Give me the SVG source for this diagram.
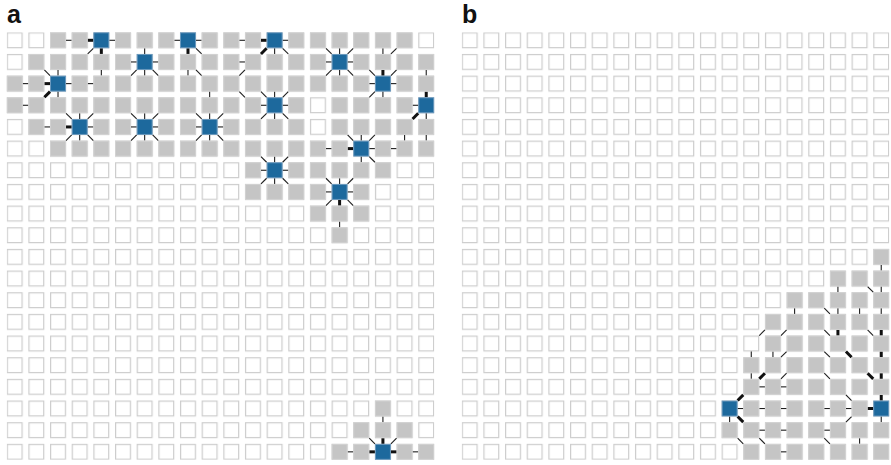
<svg xmlns="http://www.w3.org/2000/svg" xmlns:xlink="http://www.w3.org/1999/xlink" width="891" height="465" viewBox="0 0 891 465">
<style>
.lbl{font-family:"Liberation Sans",Arial,sans-serif;font-weight:bold;font-size:25px;fill:#111}
.t{stroke:#1e1e1e;stroke-width:1.1}
.k{stroke:#111;stroke-width:3}
.gs{fill:#c5c5c5;stroke:#d2d2d2;stroke-width:1}
.bs{fill:#1d699d;stroke:#6a98bd;stroke-width:1}
</style>
<defs>
<pattern id="pw" width="21.66" height="21.66" patternUnits="userSpaceOnUse"><rect x="0.6" y="0.6" width="14.8" height="14.8" fill="#fff" stroke="#cdcdcd" stroke-width="1.2"/></pattern>
<line id="H" x1="16" y1="8" x2="21.66" y2="8"/>
<line id="V" x1="8" y1="16" x2="8" y2="21.66"/>
<line id="R" x1="16" y1="16" x2="21.66" y2="21.66"/>
<line id="L" x1="0" y1="16" x2="-5.66" y2="21.66"/>
<rect id="G" class="gs" x="0.5" y="0.5" width="15" height="15"/>
<rect id="B" class="bs" x="0.5" y="0.5" width="15" height="15"/>
</defs>
<rect width="891" height="465" fill="#fff"/>
<text class="lbl" x="7" y="23">a</text>
<text class="lbl" x="462" y="23">b</text>

<g id="panel-a" transform="translate(6.7 32.3)">
<rect id="grid-a" width="427.6" height="427.6" fill="url(#pw)"/>
<g id="connectors-a">
<use href="#H" x="43.32" y="0" class="t"/><use href="#H" x="64.98" y="0" class="k"/><use href="#H" x="86.64" y="0" class="t"/><use href="#H" x="151.62" y="0" class="t"/><use href="#H" x="173.28" y="0" class="t"/><use href="#H" x="216.6" y="0" class="t"/><use href="#H" x="238.26" y="0" class="k"/><use href="#H" x="259.92" y="0" class="t"/>
<use href="#L" x="86.64" y="0" class="t"/><use href="#V" x="86.64" y="0" class="k"/><use href="#V" x="129.96" y="0" class="t"/><use href="#V" x="173.28" y="0" class="k"/><use href="#R" x="173.28" y="0" class="t"/><use href="#L" x="259.92" y="0" class="k"/><use href="#V" x="259.92" y="0" class="t"/><use href="#R" x="259.92" y="0" class="t"/><use href="#R" x="303.24" y="0" class="t"/><use href="#V" x="324.9" y="0" class="t"/><use href="#L" x="346.56" y="0" class="t"/><use href="#V" x="368.22" y="0" class="t"/><use href="#L" x="389.88" y="0" class="t"/>
<use href="#H" x="108.3" y="21.66" class="t"/><use href="#H" x="129.96" y="21.66" class="t"/><use href="#H" x="216.6" y="21.66" class="t"/><use href="#H" x="303.24" y="21.66" class="t"/><use href="#H" x="324.9" y="21.66" class="t"/>
<use href="#R" x="21.66" y="21.66" class="t"/><use href="#V" x="43.32" y="21.66" class="t"/><use href="#V" x="86.64" y="21.66" class="t"/><use href="#L" x="129.96" y="21.66" class="t"/><use href="#V" x="129.96" y="21.66" class="t"/><use href="#R" x="129.96" y="21.66" class="t"/><use href="#V" x="173.28" y="21.66" class="t"/><use href="#R" x="173.28" y="21.66" class="t"/><use href="#L" x="238.26" y="21.66" class="t"/><use href="#L" x="324.9" y="21.66" class="t"/><use href="#V" x="324.9" y="21.66" class="t"/><use href="#R" x="324.9" y="21.66" class="t"/><use href="#R" x="346.56" y="21.66" class="t"/><use href="#V" x="368.22" y="21.66" class="k"/><use href="#L" x="389.88" y="21.66" class="t"/><use href="#V" x="411.54" y="21.66" class="t"/>
<use href="#H" x="0" y="43.32" class="t"/><use href="#H" x="21.66" y="43.32" class="k"/><use href="#H" x="43.32" y="43.32" class="t"/><use href="#H" x="64.98" y="43.32" class="t"/><use href="#H" x="346.56" y="43.32" class="t"/><use href="#H" x="368.22" y="43.32" class="t"/>
<use href="#L" x="43.32" y="43.32" class="k"/><use href="#V" x="43.32" y="43.32" class="t"/><use href="#V" x="194.94" y="43.32" class="t"/><use href="#R" x="216.6" y="43.32" class="t"/><use href="#R" x="238.26" y="43.32" class="t"/><use href="#V" x="259.92" y="43.32" class="t"/><use href="#L" x="281.58" y="43.32" class="t"/><use href="#L" x="368.22" y="43.32" class="t"/><use href="#V" x="368.22" y="43.32" class="t"/><use href="#V" x="411.54" y="43.32" class="k"/>
<use href="#H" x="0" y="64.98" class="t"/><use href="#H" x="238.26" y="64.98" class="t"/><use href="#H" x="259.92" y="64.98" class="t"/><use href="#H" x="389.88" y="64.98" class="t"/>
<use href="#R" x="43.32" y="64.98" class="t"/><use href="#V" x="64.98" y="64.98" class="t"/><use href="#L" x="86.64" y="64.98" class="t"/><use href="#R" x="108.3" y="64.98" class="t"/><use href="#V" x="129.96" y="64.98" class="t"/><use href="#L" x="151.62" y="64.98" class="t"/><use href="#R" x="173.28" y="64.98" class="t"/><use href="#V" x="194.94" y="64.98" class="t"/><use href="#L" x="216.6" y="64.98" class="t"/><use href="#L" x="259.92" y="64.98" class="t"/><use href="#V" x="259.92" y="64.98" class="t"/><use href="#R" x="259.92" y="64.98" class="t"/><use href="#L" x="411.54" y="64.98" class="k"/><use href="#V" x="411.54" y="64.98" class="t"/>
<use href="#H" x="21.66" y="86.64" class="t"/><use href="#H" x="43.32" y="86.64" class="k"/><use href="#H" x="64.98" y="86.64" class="t"/><use href="#H" x="108.3" y="86.64" class="t"/><use href="#H" x="129.96" y="86.64" class="t"/><use href="#H" x="173.28" y="86.64" class="t"/><use href="#H" x="194.94" y="86.64" class="t"/>
<use href="#L" x="64.98" y="86.64" class="t"/><use href="#V" x="64.98" y="86.64" class="t"/><use href="#R" x="64.98" y="86.64" class="t"/><use href="#L" x="129.96" y="86.64" class="t"/><use href="#V" x="129.96" y="86.64" class="t"/><use href="#R" x="129.96" y="86.64" class="t"/><use href="#L" x="194.94" y="86.64" class="t"/><use href="#V" x="194.94" y="86.64" class="t"/><use href="#R" x="194.94" y="86.64" class="t"/><use href="#R" x="324.9" y="86.64" class="t"/><use href="#V" x="346.56" y="86.64" class="t"/><use href="#L" x="368.22" y="86.64" class="t"/><use href="#V" x="389.88" y="86.64" class="t"/><use href="#V" x="411.54" y="86.64" class="t"/>
<use href="#H" x="303.24" y="108.3" class="t"/><use href="#H" x="324.9" y="108.3" class="k"/><use href="#H" x="346.56" y="108.3" class="t"/><use href="#H" x="368.22" y="108.3" class="t"/>
<use href="#R" x="238.26" y="108.3" class="t"/><use href="#V" x="259.92" y="108.3" class="t"/><use href="#L" x="281.58" y="108.3" class="t"/><use href="#V" x="346.56" y="108.3" class="t"/><use href="#R" x="346.56" y="108.3" class="t"/>
<use href="#H" x="238.26" y="129.96" class="t"/><use href="#H" x="259.92" y="129.96" class="t"/>
<use href="#L" x="259.92" y="129.96" class="t"/><use href="#V" x="259.92" y="129.96" class="t"/><use href="#R" x="259.92" y="129.96" class="t"/><use href="#R" x="303.24" y="129.96" class="t"/><use href="#V" x="324.9" y="129.96" class="t"/><use href="#L" x="346.56" y="129.96" class="t"/>
<use href="#H" x="303.24" y="151.62" class="t"/><use href="#H" x="324.9" y="151.62" class="t"/>
<use href="#L" x="324.9" y="151.62" class="t"/><use href="#V" x="324.9" y="151.62" class="k"/><use href="#R" x="324.9" y="151.62" class="t"/>
<use href="#V" x="324.9" y="173.28" class="t"/>
<use href="#V" x="368.22" y="368.22" class="t"/><use href="#R" x="346.56" y="389.88" class="t"/><use href="#V" x="368.22" y="389.88" class="k"/><use href="#L" x="389.88" y="389.88" class="t"/>
<use href="#H" x="324.9" y="411.54" class="t"/><use href="#H" x="346.56" y="411.54" class="k"/><use href="#H" x="368.22" y="411.54" class="k"/><use href="#H" x="389.88" y="411.54" class="t"/>
</g>
<g id="nodes-a">
<g id="a-r0c2"><use href="#G" x="43.32" y="0"/></g><g id="a-r0c3"><use href="#G" x="64.98" y="0"/></g><g id="a-r0c4"><use href="#B" x="86.64" y="0"/></g><g id="a-r0c5"><use href="#G" x="108.3" y="0"/></g><g id="a-r0c6"><use href="#G" x="129.96" y="0"/></g><g id="a-r0c7"><use href="#G" x="151.62" y="0"/></g><g id="a-r0c8"><use href="#B" x="173.28" y="0"/></g><g id="a-r0c9"><use href="#G" x="194.94" y="0"/></g><g id="a-r0c10"><use href="#G" x="216.6" y="0"/></g><g id="a-r0c11"><use href="#G" x="238.26" y="0"/></g><g id="a-r0c12"><use href="#B" x="259.92" y="0"/></g><g id="a-r0c13"><use href="#G" x="281.58" y="0"/></g><g id="a-r0c14"><use href="#G" x="303.24" y="0"/></g><g id="a-r0c15"><use href="#G" x="324.9" y="0"/></g><g id="a-r0c16"><use href="#G" x="346.56" y="0"/></g><g id="a-r0c17"><use href="#G" x="368.22" y="0"/></g><g id="a-r0c18"><use href="#G" x="389.88" y="0"/></g>
<g id="a-r1c1"><use href="#G" x="21.66" y="21.66"/></g><g id="a-r1c2"><use href="#G" x="43.32" y="21.66"/></g><g id="a-r1c3"><use href="#G" x="64.98" y="21.66"/></g><g id="a-r1c4"><use href="#G" x="86.64" y="21.66"/></g><g id="a-r1c5"><use href="#G" x="108.3" y="21.66"/></g><g id="a-r1c6"><use href="#B" x="129.96" y="21.66"/></g><g id="a-r1c7"><use href="#G" x="151.62" y="21.66"/></g><g id="a-r1c8"><use href="#G" x="173.28" y="21.66"/></g><g id="a-r1c9"><use href="#G" x="194.94" y="21.66"/></g><g id="a-r1c10"><use href="#G" x="216.6" y="21.66"/></g><g id="a-r1c11"><use href="#G" x="238.26" y="21.66"/></g><g id="a-r1c12"><use href="#G" x="259.92" y="21.66"/></g><g id="a-r1c13"><use href="#G" x="281.58" y="21.66"/></g><g id="a-r1c14"><use href="#G" x="303.24" y="21.66"/></g><g id="a-r1c15"><use href="#B" x="324.9" y="21.66"/></g><g id="a-r1c16"><use href="#G" x="346.56" y="21.66"/></g><g id="a-r1c17"><use href="#G" x="368.22" y="21.66"/></g><g id="a-r1c18"><use href="#G" x="389.88" y="21.66"/></g><g id="a-r1c19"><use href="#G" x="411.54" y="21.66"/></g>
<g id="a-r2c0"><use href="#G" x="0" y="43.32"/></g><g id="a-r2c1"><use href="#G" x="21.66" y="43.32"/></g><g id="a-r2c2"><use href="#B" x="43.32" y="43.32"/></g><g id="a-r2c3"><use href="#G" x="64.98" y="43.32"/></g><g id="a-r2c4"><use href="#G" x="86.64" y="43.32"/></g><g id="a-r2c5"><use href="#G" x="108.3" y="43.32"/></g><g id="a-r2c6"><use href="#G" x="129.96" y="43.32"/></g><g id="a-r2c7"><use href="#G" x="151.62" y="43.32"/></g><g id="a-r2c8"><use href="#G" x="173.28" y="43.32"/></g><g id="a-r2c9"><use href="#G" x="194.94" y="43.32"/></g><g id="a-r2c10"><use href="#G" x="216.6" y="43.32"/></g><g id="a-r2c11"><use href="#G" x="238.26" y="43.32"/></g><g id="a-r2c12"><use href="#G" x="259.92" y="43.32"/></g><g id="a-r2c13"><use href="#G" x="281.58" y="43.32"/></g><g id="a-r2c14"><use href="#G" x="303.24" y="43.32"/></g><g id="a-r2c15"><use href="#G" x="324.9" y="43.32"/></g><g id="a-r2c16"><use href="#G" x="346.56" y="43.32"/></g><g id="a-r2c17"><use href="#B" x="368.22" y="43.32"/></g><g id="a-r2c18"><use href="#G" x="389.88" y="43.32"/></g><g id="a-r2c19"><use href="#G" x="411.54" y="43.32"/></g>
<g id="a-r3c0"><use href="#G" x="0" y="64.98"/></g><g id="a-r3c1"><use href="#G" x="21.66" y="64.98"/></g><g id="a-r3c2"><use href="#G" x="43.32" y="64.98"/></g><g id="a-r3c3"><use href="#G" x="64.98" y="64.98"/></g><g id="a-r3c4"><use href="#G" x="86.64" y="64.98"/></g><g id="a-r3c5"><use href="#G" x="108.3" y="64.98"/></g><g id="a-r3c6"><use href="#G" x="129.96" y="64.98"/></g><g id="a-r3c7"><use href="#G" x="151.62" y="64.98"/></g><g id="a-r3c8"><use href="#G" x="173.28" y="64.98"/></g><g id="a-r3c9"><use href="#G" x="194.94" y="64.98"/></g><g id="a-r3c10"><use href="#G" x="216.6" y="64.98"/></g><g id="a-r3c11"><use href="#G" x="238.26" y="64.98"/></g><g id="a-r3c12"><use href="#B" x="259.92" y="64.98"/></g><g id="a-r3c13"><use href="#G" x="281.58" y="64.98"/></g><g id="a-r3c15"><use href="#G" x="324.9" y="64.98"/></g><g id="a-r3c16"><use href="#G" x="346.56" y="64.98"/></g><g id="a-r3c17"><use href="#G" x="368.22" y="64.98"/></g><g id="a-r3c18"><use href="#G" x="389.88" y="64.98"/></g><g id="a-r3c19"><use href="#B" x="411.54" y="64.98"/></g>
<g id="a-r4c1"><use href="#G" x="21.66" y="86.64"/></g><g id="a-r4c2"><use href="#G" x="43.32" y="86.64"/></g><g id="a-r4c3"><use href="#B" x="64.98" y="86.64"/></g><g id="a-r4c4"><use href="#G" x="86.64" y="86.64"/></g><g id="a-r4c5"><use href="#G" x="108.3" y="86.64"/></g><g id="a-r4c6"><use href="#B" x="129.96" y="86.64"/></g><g id="a-r4c7"><use href="#G" x="151.62" y="86.64"/></g><g id="a-r4c8"><use href="#G" x="173.28" y="86.64"/></g><g id="a-r4c9"><use href="#B" x="194.94" y="86.64"/></g><g id="a-r4c10"><use href="#G" x="216.6" y="86.64"/></g><g id="a-r4c11"><use href="#G" x="238.26" y="86.64"/></g><g id="a-r4c12"><use href="#G" x="259.92" y="86.64"/></g><g id="a-r4c13"><use href="#G" x="281.58" y="86.64"/></g><g id="a-r4c15"><use href="#G" x="324.9" y="86.64"/></g><g id="a-r4c16"><use href="#G" x="346.56" y="86.64"/></g><g id="a-r4c17"><use href="#G" x="368.22" y="86.64"/></g><g id="a-r4c18"><use href="#G" x="389.88" y="86.64"/></g><g id="a-r4c19"><use href="#G" x="411.54" y="86.64"/></g>
<g id="a-r5c2"><use href="#G" x="43.32" y="108.3"/></g><g id="a-r5c3"><use href="#G" x="64.98" y="108.3"/></g><g id="a-r5c4"><use href="#G" x="86.64" y="108.3"/></g><g id="a-r5c5"><use href="#G" x="108.3" y="108.3"/></g><g id="a-r5c6"><use href="#G" x="129.96" y="108.3"/></g><g id="a-r5c7"><use href="#G" x="151.62" y="108.3"/></g><g id="a-r5c8"><use href="#G" x="173.28" y="108.3"/></g><g id="a-r5c9"><use href="#G" x="194.94" y="108.3"/></g><g id="a-r5c10"><use href="#G" x="216.6" y="108.3"/></g><g id="a-r5c11"><use href="#G" x="238.26" y="108.3"/></g><g id="a-r5c12"><use href="#G" x="259.92" y="108.3"/></g><g id="a-r5c13"><use href="#G" x="281.58" y="108.3"/></g><g id="a-r5c14"><use href="#G" x="303.24" y="108.3"/></g><g id="a-r5c15"><use href="#G" x="324.9" y="108.3"/></g><g id="a-r5c16"><use href="#B" x="346.56" y="108.3"/></g><g id="a-r5c17"><use href="#G" x="368.22" y="108.3"/></g><g id="a-r5c18"><use href="#G" x="389.88" y="108.3"/></g><g id="a-r5c19"><use href="#G" x="411.54" y="108.3"/></g>
<g id="a-r6c11"><use href="#G" x="238.26" y="129.96"/></g><g id="a-r6c12"><use href="#B" x="259.92" y="129.96"/></g><g id="a-r6c13"><use href="#G" x="281.58" y="129.96"/></g><g id="a-r6c14"><use href="#G" x="303.24" y="129.96"/></g><g id="a-r6c15"><use href="#G" x="324.9" y="129.96"/></g><g id="a-r6c16"><use href="#G" x="346.56" y="129.96"/></g><g id="a-r6c17"><use href="#G" x="368.22" y="129.96"/></g>
<g id="a-r7c11"><use href="#G" x="238.26" y="151.62"/></g><g id="a-r7c12"><use href="#G" x="259.92" y="151.62"/></g><g id="a-r7c13"><use href="#G" x="281.58" y="151.62"/></g><g id="a-r7c14"><use href="#G" x="303.24" y="151.62"/></g><g id="a-r7c15"><use href="#B" x="324.9" y="151.62"/></g><g id="a-r7c16"><use href="#G" x="346.56" y="151.62"/></g>
<g id="a-r8c14"><use href="#G" x="303.24" y="173.28"/></g><g id="a-r8c15"><use href="#G" x="324.9" y="173.28"/></g><g id="a-r8c16"><use href="#G" x="346.56" y="173.28"/></g>
<g id="a-r9c15"><use href="#G" x="324.9" y="194.94"/></g>
<g id="a-r17c17"><use href="#G" x="368.22" y="368.22"/></g>
<g id="a-r18c16"><use href="#G" x="346.56" y="389.88"/></g><g id="a-r18c17"><use href="#G" x="368.22" y="389.88"/></g><g id="a-r18c18"><use href="#G" x="389.88" y="389.88"/></g>
<g id="a-r19c15"><use href="#G" x="324.9" y="411.54"/></g><g id="a-r19c16"><use href="#G" x="346.56" y="411.54"/></g><g id="a-r19c17"><use href="#B" x="368.22" y="411.54"/></g><g id="a-r19c18"><use href="#G" x="389.88" y="411.54"/></g><g id="a-r19c19"><use href="#G" x="411.54" y="411.54"/></g>
</g>
</g>

<g id="panel-b" transform="translate(461.7 32.3)">
<rect id="grid-b" width="427.6" height="427.6" fill="url(#pw)"/>
<g id="connectors-b">
<use href="#V" x="411.54" y="216.6" class="t"/>
<use href="#V" x="368.22" y="238.26" class="t"/><use href="#R" x="389.88" y="238.26" class="t"/><use href="#V" x="411.54" y="238.26" class="t"/>
<use href="#V" x="324.9" y="259.92" class="t"/><use href="#R" x="346.56" y="259.92" class="t"/><use href="#V" x="368.22" y="259.92" class="t"/><use href="#V" x="389.88" y="259.92" class="t"/><use href="#V" x="411.54" y="259.92" class="t"/>
<use href="#L" x="303.24" y="281.58" class="t"/><use href="#L" x="324.9" y="281.58" class="t"/><use href="#R" x="346.56" y="281.58" class="t"/><use href="#V" x="368.22" y="281.58" class="k"/><use href="#R" x="389.88" y="281.58" class="t"/><use href="#V" x="411.54" y="281.58" class="k"/>
<use href="#V" x="281.58" y="303.24" class="t"/><use href="#V" x="303.24" y="303.24" class="t"/><use href="#L" x="324.9" y="303.24" class="t"/><use href="#R" x="346.56" y="303.24" class="t"/><use href="#R" x="368.22" y="303.24" class="k"/><use href="#V" x="411.54" y="303.24" class="k"/>
<use href="#V" x="281.58" y="324.9" class="t"/><use href="#L" x="303.24" y="324.9" class="k"/><use href="#L" x="324.9" y="324.9" class="t"/><use href="#R" x="346.56" y="324.9" class="t"/><use href="#R" x="389.88" y="324.9" class="k"/><use href="#V" x="411.54" y="324.9" class="k"/>
<use href="#H" x="281.58" y="346.56" class="t"/><use href="#H" x="303.24" y="346.56" class="t"/>
<use href="#L" x="281.58" y="346.56" class="k"/><use href="#R" x="368.22" y="346.56" class="t"/><use href="#V" x="411.54" y="346.56" class="k"/>
<use href="#H" x="259.92" y="368.22" class="t"/><use href="#H" x="281.58" y="368.22" class="t"/><use href="#H" x="303.24" y="368.22" class="t"/><use href="#H" x="346.56" y="368.22" class="t"/><use href="#H" x="368.22" y="368.22" class="t"/><use href="#H" x="389.88" y="368.22" class="k"/>
<use href="#V" x="259.92" y="368.22" class="t"/><use href="#R" x="259.92" y="368.22" class="k"/><use href="#L" x="389.88" y="368.22" class="t"/><use href="#V" x="411.54" y="368.22" class="t"/>
<use href="#H" x="281.58" y="389.88" class="t"/><use href="#H" x="303.24" y="389.88" class="t"/><use href="#H" x="346.56" y="389.88" class="t"/>
<use href="#R" x="259.92" y="389.88" class="t"/><use href="#R" x="281.58" y="389.88" class="t"/><use href="#R" x="346.56" y="389.88" class="t"/><use href="#V" x="389.88" y="389.88" class="t"/>
<use href="#H" x="303.24" y="411.54" class="t"/>
</g>
<g id="nodes-b">
<g id="b-r10c19"><use href="#G" x="411.54" y="216.6"/></g>
<g id="b-r11c17"><use href="#G" x="368.22" y="238.26"/></g><g id="b-r11c18"><use href="#G" x="389.88" y="238.26"/></g><g id="b-r11c19"><use href="#G" x="411.54" y="238.26"/></g>
<g id="b-r12c15"><use href="#G" x="324.9" y="259.92"/></g><g id="b-r12c16"><use href="#G" x="346.56" y="259.92"/></g><g id="b-r12c17"><use href="#G" x="368.22" y="259.92"/></g><g id="b-r12c18"><use href="#G" x="389.88" y="259.92"/></g><g id="b-r12c19"><use href="#G" x="411.54" y="259.92"/></g>
<g id="b-r13c14"><use href="#G" x="303.24" y="281.58"/></g><g id="b-r13c15"><use href="#G" x="324.9" y="281.58"/></g><g id="b-r13c16"><use href="#G" x="346.56" y="281.58"/></g><g id="b-r13c17"><use href="#G" x="368.22" y="281.58"/></g><g id="b-r13c18"><use href="#G" x="389.88" y="281.58"/></g><g id="b-r13c19"><use href="#G" x="411.54" y="281.58"/></g>
<g id="b-r14c14"><use href="#G" x="303.24" y="303.24"/></g><g id="b-r14c15"><use href="#G" x="324.9" y="303.24"/></g><g id="b-r14c16"><use href="#G" x="346.56" y="303.24"/></g><g id="b-r14c17"><use href="#G" x="368.22" y="303.24"/></g><g id="b-r14c18"><use href="#G" x="389.88" y="303.24"/></g><g id="b-r14c19"><use href="#G" x="411.54" y="303.24"/></g>
<g id="b-r15c13"><use href="#G" x="281.58" y="324.9"/></g><g id="b-r15c14"><use href="#G" x="303.24" y="324.9"/></g><g id="b-r15c15"><use href="#G" x="324.9" y="324.9"/></g><g id="b-r15c16"><use href="#G" x="346.56" y="324.9"/></g><g id="b-r15c17"><use href="#G" x="368.22" y="324.9"/></g><g id="b-r15c18"><use href="#G" x="389.88" y="324.9"/></g><g id="b-r15c19"><use href="#G" x="411.54" y="324.9"/></g>
<g id="b-r16c13"><use href="#G" x="281.58" y="346.56"/></g><g id="b-r16c14"><use href="#G" x="303.24" y="346.56"/></g><g id="b-r16c15"><use href="#G" x="324.9" y="346.56"/></g><g id="b-r16c16"><use href="#G" x="346.56" y="346.56"/></g><g id="b-r16c17"><use href="#G" x="368.22" y="346.56"/></g><g id="b-r16c18"><use href="#G" x="389.88" y="346.56"/></g><g id="b-r16c19"><use href="#G" x="411.54" y="346.56"/></g>
<g id="b-r17c12"><use href="#B" x="259.92" y="368.22"/></g><g id="b-r17c13"><use href="#G" x="281.58" y="368.22"/></g><g id="b-r17c14"><use href="#G" x="303.24" y="368.22"/></g><g id="b-r17c15"><use href="#G" x="324.9" y="368.22"/></g><g id="b-r17c16"><use href="#G" x="346.56" y="368.22"/></g><g id="b-r17c17"><use href="#G" x="368.22" y="368.22"/></g><g id="b-r17c18"><use href="#G" x="389.88" y="368.22"/></g><g id="b-r17c19"><use href="#B" x="411.54" y="368.22"/></g>
<g id="b-r18c12"><use href="#G" x="259.92" y="389.88"/></g><g id="b-r18c13"><use href="#G" x="281.58" y="389.88"/></g><g id="b-r18c14"><use href="#G" x="303.24" y="389.88"/></g><g id="b-r18c15"><use href="#G" x="324.9" y="389.88"/></g><g id="b-r18c16"><use href="#G" x="346.56" y="389.88"/></g><g id="b-r18c17"><use href="#G" x="368.22" y="389.88"/></g><g id="b-r18c18"><use href="#G" x="389.88" y="389.88"/></g><g id="b-r18c19"><use href="#G" x="411.54" y="389.88"/></g>
<g id="b-r19c13"><use href="#G" x="281.58" y="411.54"/></g><g id="b-r19c14"><use href="#G" x="303.24" y="411.54"/></g><g id="b-r19c15"><use href="#G" x="324.9" y="411.54"/></g><g id="b-r19c16"><use href="#G" x="346.56" y="411.54"/></g><g id="b-r19c17"><use href="#G" x="368.22" y="411.54"/></g><g id="b-r19c18"><use href="#G" x="389.88" y="411.54"/></g><g id="b-r19c19"><use href="#G" x="411.54" y="411.54"/></g>
</g>
</g>
</svg>
